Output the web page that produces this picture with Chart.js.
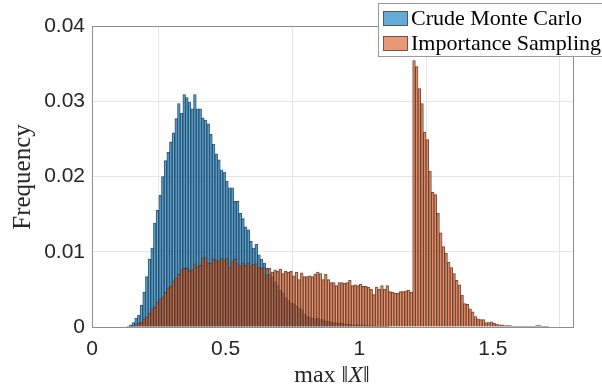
<!DOCTYPE html>
<html>
<head>
<meta charset="utf-8">
<script src="https://cdn.jsdelivr.net/npm/chart.js@4.4.0/dist/chart.umd.min.js"></script>
<style>
  html, body { margin: 0; padding: 0; background: #fff; }
  #wrap { width: 602px; height: 392px; }
</style>
</head>
<body>
<div id="wrap"><canvas id="hist"></canvas></div>
<script>
// histogram bins, width 0.01
var binWidth = 0.01;

var crudeStart = 0.13;
var crudeFreq = [
  0.0001, 0.0003, 0.0006, 0.0012, 0.0016, 0.0029, 0.0046, 0.0067, 0.0090, 0.0105,
  0.0138, 0.0155, 0.0175, 0.0200, 0.0221, 0.0232, 0.0246, 0.0258, 0.0277, 0.0297,
  0.0284, 0.0309, 0.0305, 0.0299, 0.0290, 0.0309, 0.0290, 0.0290, 0.0278, 0.0275,
  0.0270, 0.0256, 0.0243, 0.0230, 0.0222, 0.0209, 0.0206, 0.0194, 0.0185, 0.0185,
  0.0167, 0.0167, 0.0151, 0.0144, 0.0133, 0.0129, 0.0114, 0.0105, 0.0110, 0.0096,
  0.0090, 0.0085, 0.0078, 0.0070, 0.0067, 0.0060, 0.0055, 0.0049, 0.0045, 0.0039,
  0.0035, 0.0032, 0.0031, 0.0028, 0.0025, 0.0023, 0.0017, 0.0015, 0.0013, 0.0012,
  0.0011, 0.0012, 0.0010, 0.0010, 0.0008, 0.0008, 0.0007, 0.0006, 0.0006, 0.0005,
  0.0005, 0.0004, 0.0004, 0.0004, 0.0003, 0.0003, 0.0003, 0.0003, 0.0002, 0.0002,
  0.0002, 0.0002, 0.0001, 0.0001, 0.0001, 0.0001, 0.0001, 0.0001
];

var impStart = 0.14;
var impFreq = [
  0.0001, 0.0002, 0.0003, 0.0005, 0.0006, 0.0010, 0.0013, 0.0018, 0.0024, 0.0026,
  0.0033, 0.0037, 0.0040, 0.0046, 0.0052, 0.0054, 0.0061, 0.0065, 0.0070, 0.0076,
  0.0078, 0.0078, 0.0075, 0.0076, 0.0084, 0.0080, 0.0082, 0.0092, 0.0092, 0.0085,
  0.0085, 0.0090, 0.0089, 0.0088, 0.0091, 0.0089, 0.0091, 0.0079, 0.0087, 0.0090,
  0.0084, 0.0081, 0.0085, 0.0082, 0.0085, 0.0081, 0.0083, 0.0084, 0.0079, 0.0078,
  0.0079, 0.0069, 0.0078, 0.0073, 0.0076, 0.0074, 0.0077, 0.0071, 0.0074, 0.0073,
  0.0074, 0.0068, 0.0073, 0.0063, 0.0072, 0.0067, 0.0067, 0.0068, 0.0067, 0.0070,
  0.0073, 0.0071, 0.0063, 0.0070, 0.0063, 0.0059, 0.0059, 0.0055, 0.0059, 0.0059,
  0.0058, 0.0059, 0.0062, 0.0055, 0.0056, 0.0055, 0.0057, 0.0054, 0.0054, 0.0053,
  0.0050, 0.0043, 0.0053, 0.0050, 0.0055, 0.0050, 0.0055, 0.0047, 0.0046, 0.0045,
  0.0045, 0.0047, 0.0047, 0.0048, 0.0049, 0.0046, 0.0354, 0.0346, 0.0317, 0.0297,
  0.0259, 0.0249, 0.0207, 0.0179, 0.0176, 0.0151, 0.0125, 0.0107, 0.0098, 0.0086,
  0.0079, 0.0071, 0.0062, 0.0056, 0.0042, 0.0031, 0.0030, 0.0024, 0.0020, 0.0014,
  0.0011, 0.0010, 0.0010, 0.0006, 0.0006, 0.0007, 0.0005, 0.0004, 0.0003, 0.0003,
  0.0002, 0.0002, 0.0002, 0.0001, 0.0001, 0.0001, 0.0001, 0.0001, 0.0001, 0.0001,
  0.0001, 0.0001, 0.0002, 0.0002, 0.0001, 0.0001, 0.0001
];

var seriesNames = ['Crude Monte Carlo', 'Importance Sampling'];
var xTicks = [0, 0.5, 1, 1.5];
var yTicks = [0, 0.01, 0.02, 0.03, 0.04];

var serif = '"Liberation Serif", "DejaVu Serif", serif';
var sans = '"Liberation Sans", Arial, sans-serif';

function toBins(start, freq) {
  return freq.map(function (v, i) {
    return { x: +(start + (i + 0.5) * binWidth).toFixed(4), y: v };
  });
}

// box around the axes (matlab style)
var axesBox = {
  id: 'axesBox',
  afterDatasetsDraw: function (chart) {
    var a = chart.chartArea, ctx = chart.ctx;
    ctx.save();
    ctx.strokeStyle = '#8e8e8e';
    ctx.lineWidth = 1;
    ctx.strokeRect(Math.round(a.left) + 0.5, Math.round(a.top) + 0.5,
      Math.round(a.right - a.left), Math.round(a.bottom - a.top));
    ctx.restore();
  }
};

// axis labels, x label has an italic X
var axisLabels = {
  id: 'axisLabels',
  afterDraw: function (chart) {
    var ctx = chart.ctx;
    ctx.save();
    ctx.fillStyle = '#262626';
    ctx.font = '25px ' + serif;
    ctx.textAlign = 'center';
    ctx.textBaseline = 'alphabetic';
    ctx.translate(30, 177);
    ctx.rotate(-Math.PI / 2);
    ctx.fillText('Frequency', 0, 0);
    ctx.restore();

    ctx.save();
    ctx.fillStyle = '#262626';
    ctx.textBaseline = 'alphabetic';
    ctx.textAlign = 'left';
    var parts = [
      ['max ', '24px ' + serif],
      ['\u2016', '24px ' + serif],
      ['X', 'italic 24px ' + serif],
      ['\u2016', '24px ' + serif]
    ];
    var total = 0;
    parts.forEach(function (p) { ctx.font = p[1]; p.push(ctx.measureText(p[0]).width); total += p[2]; });
    var x = 332 - total / 2;
    parts.forEach(function (p) { ctx.font = p[1]; ctx.fillText(p[0], x, 382); x += p[2]; });
    ctx.restore();
  }
};

// legend box in the top right corner
var legendBox = {
  id: 'legendBox',
  afterDraw: function (chart) {
    var ctx = chart.ctx;
    ctx.save();
    ctx.fillStyle = '#fff';
    ctx.fillRect(378, 3, 240, 54);
    ctx.strokeStyle = '#9a9a9a';
    ctx.lineWidth = 1;
    ctx.strokeRect(378.5, 3.5, 240, 53);
    chart.data.datasets.forEach(function (ds, i) {
      var y = 11 + i * 25;
      ctx.fillStyle = ds.backgroundColor;
      ctx.fillRect(383, y, 25, 15);
      ctx.strokeStyle = 'rgba(60,60,60,0.7)';
      ctx.strokeRect(383.5, y + 0.5, 24, 14);
      ctx.fillStyle = '#000';
      ctx.font = '22px ' + serif;
      ctx.textAlign = 'left';
      ctx.textBaseline = 'alphabetic';
      ctx.fillText(ds.label, 411, y + 14);
    });
    ctx.restore();
  }
};

var ctx = document.getElementById('hist');
var myChart = new Chart(ctx, {
  type: 'bar',
  data: {
    datasets: [
      {
        label: seriesNames[0],
        data: toBins(crudeStart, crudeFreq),
        backgroundColor: 'rgba(0, 114, 189, 0.6)',
        borderColor: 'rgba(38, 38, 38, 0.8)',
        borderWidth: 0.5,
        order: 1
      },
      {
        label: seriesNames[1],
        data: toBins(impStart, impFreq),
        backgroundColor: 'rgba(217, 83, 25, 0.6)',
        borderColor: 'rgba(38, 38, 38, 0.8)',
        borderWidth: 0.5,
        order: 0
      }
    ]
  },
  options: {
    responsive: true,
    maintainAspectRatio: false,
    animation: false,
    devicePixelRatio: 1,
    grouped: false,
    barPercentage: 1,
    categoryPercentage: 1,
    layout: { padding: { top: 26, right: 29, left: 0, bottom: 0 } },
    plugins: {
      legend: { display: false },
      tooltip: { enabled: false }
    },
    scales: {
      x: {
        type: 'linear',
        min: 0,
        max: 1.8,
        offset: false,
        afterBuildTicks: function (s) { s.ticks = xTicks.map(function (v) { return { value: v }; }); },
        afterFit: function (s) { s.height = 65; },
        grid: { color: '#e6e6e6', drawTicks: false },
        border: { display: false },
        ticks: {
          padding: 10,
          maxRotation: 0,
          color: '#262626',
          font: { family: sans, size: 21 },
          callback: function (v) { return String(v); }
        }
      },
      y: {
        min: 0,
        max: 0.04,
        afterBuildTicks: function (s) { s.ticks = yTicks.map(function (v) { return { value: v }; }); },
        afterFit: function (s) { s.width = 92; },
        grid: { color: '#e6e6e6', drawTicks: false },
        border: { display: false },
        ticks: {
          padding: 7,
          color: '#262626',
          font: { family: sans, size: 21 },
          callback: function (v) { return String(v); }
        }
      }
    }
  },
  plugins: [axesBox, axisLabels, legendBox]
});
</script>
</body>
</html>
